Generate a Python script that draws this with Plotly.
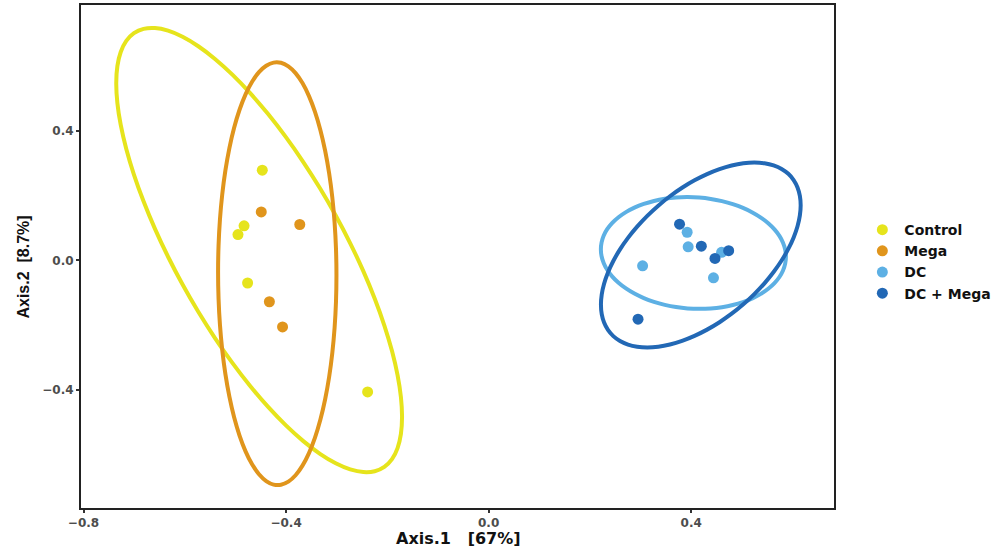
import numpy as np
import plotly.graph_objects as go

# PCoA coordinates per group (Axis.1, Axis.2)
groups = ["Control", "Mega", "DC", "DC + Mega"]
colors = ["#E6E41C", "#E0951C", "#5DB0E4", "#2268B5"]

control_x = [-0.447, -0.483, -0.495, -0.476, -0.239]
control_y = [0.279, 0.107, 0.080, -0.070, -0.407]

mega_x = [-0.449, -0.373, -0.433, -0.407]
mega_y = [0.150, 0.111, -0.128, -0.206]

dc_x = [0.392, 0.394, 0.304, 0.444, 0.460]
dc_y = [0.087, 0.042, -0.017, -0.054, 0.025]

dcmega_x = [0.377, 0.420, 0.447, 0.474, 0.295]
dcmega_y = [0.112, 0.044, 0.006, 0.030, -0.182]

series_x = [control_x, mega_x, dc_x, dcmega_x]
series_y = [control_y, mega_y, dc_y, dcmega_y]

x_ticks = [-0.8, -0.4, 0.0, 0.4]
y_ticks = [-0.4, 0.0, 0.4]


def cov_trob(pts, nu=5, maxit=25, tol=0.01):
    """Robust multivariate-t location/scatter estimate (MASS::cov.trob)."""
    n, p = pts.shape
    wt = np.ones(n)
    loc = pts.mean(axis=0)
    w = np.sqrt(wt)
    X = pts - loc
    for _ in range(maxit):
        w0 = w
        X = pts - loc
        _, d, vt = np.linalg.svd(np.sqrt(w / w.sum())[:, None] * X, full_matrices=False)
        wX = X @ vt.T @ np.diag(1.0 / d)
        Q = (wX ** 2).sum(axis=1)
        w = (wt * (nu + p)) / (nu + Q)
        loc = (w[:, None] * pts).sum(axis=0) / w.sum()
        if np.all(np.abs(w - w0) < tol):
            break
    sw = np.sqrt(w)[:, None] * X
    cov = sw.T @ sw / wt.sum()
    return loc, cov


def t_ellipse(xs, ys, level=0.95, segments=51):
    pts = np.column_stack([xs, ys])
    n = len(xs)
    center, shape = cov_trob(pts)
    dfn, dfd = 2, n - 1
    # F(2, dfd) quantile in closed form
    fq = dfd / 2.0 * ((1 - level) ** (-2.0 / dfd) - 1)
    radius = np.sqrt(dfn * fq)
    ang = np.linspace(-np.pi, np.pi, segments)
    circle = np.column_stack([np.cos(ang), np.sin(ang)])
    chol_upper = np.linalg.cholesky(shape).T
    ell = center + radius * (circle @ chol_upper)
    return ell[:, 0], ell[:, 1]


fig = go.Figure()

for name, col, xs, ys in zip(groups, colors, series_x, series_y):
    fig.add_trace(go.Scatter(
        x=xs, y=ys, mode="markers", name=name,
        marker=dict(color=col, size=11, line=dict(width=0)),
    ))

for name, col, xs, ys in zip(groups, colors, series_x, series_y):
    ex, ey = t_ellipse(xs, ys)
    fig.add_trace(go.Scatter(
        x=ex, y=ey, mode="lines", showlegend=False, hoverinfo="skip",
        line=dict(color=col, width=4, shape="spline", smoothing=0.6),
    ))

axis_common = dict(
    showgrid=False, zeroline=False, mirror=True,
    showline=True, linecolor="#222222", linewidth=2,
    ticks="outside", ticklen=3, tickwidth=2, tickcolor="#333333",
    tickfont=dict(family="DejaVu Sans", size=12, color="#4D4D4D", weight="bold"),
)

fig.update_xaxes(
    range=[-0.805, 0.682], tickvals=x_ticks,
    ticktext=["\u22120.8", "\u22120.4", "0.0", "0.4"],
    **axis_common,
)
fig.update_yaxes(
    range=[-0.766, 0.790], tickvals=y_ticks,
    ticktext=["\u22120.4", "0.0", "0.4"],
    **axis_common,
)

# axis titles
fig.add_annotation(
    text="Axis.1   [67%]", xref="paper", yref="paper", x=0.5007, y=-0.0600,
    xanchor="center", yanchor="middle", showarrow=False,
    font=dict(family="DejaVu Sans", size=16, color="#111111", weight="bold"),
)
fig.add_annotation(
    text="Axis.2  [8.7%]", xref="paper", yref="paper", x=-0.0757, y=0.480,
    xanchor="center", yanchor="middle", showarrow=False, textangle=-90,
    font=dict(family="Liberation Sans", size=16, color="#111111", weight="bold"),
)

fig.update_layout(
    width=998, height=552,
    margin=dict(l=81, r=164, t=5, b=44, autoexpand=False),
    plot_bgcolor="white", paper_bgcolor="white",
    legend=dict(
        x=1.035, xanchor="left", y=0.49, yanchor="middle",
        font=dict(family="DejaVu Sans", size=14, color="#111111", weight="bold"),
        tracegroupgap=0, itemwidth=34, bgcolor="rgba(0,0,0,0)",
    ),
)

fig.write_html("out.html")
